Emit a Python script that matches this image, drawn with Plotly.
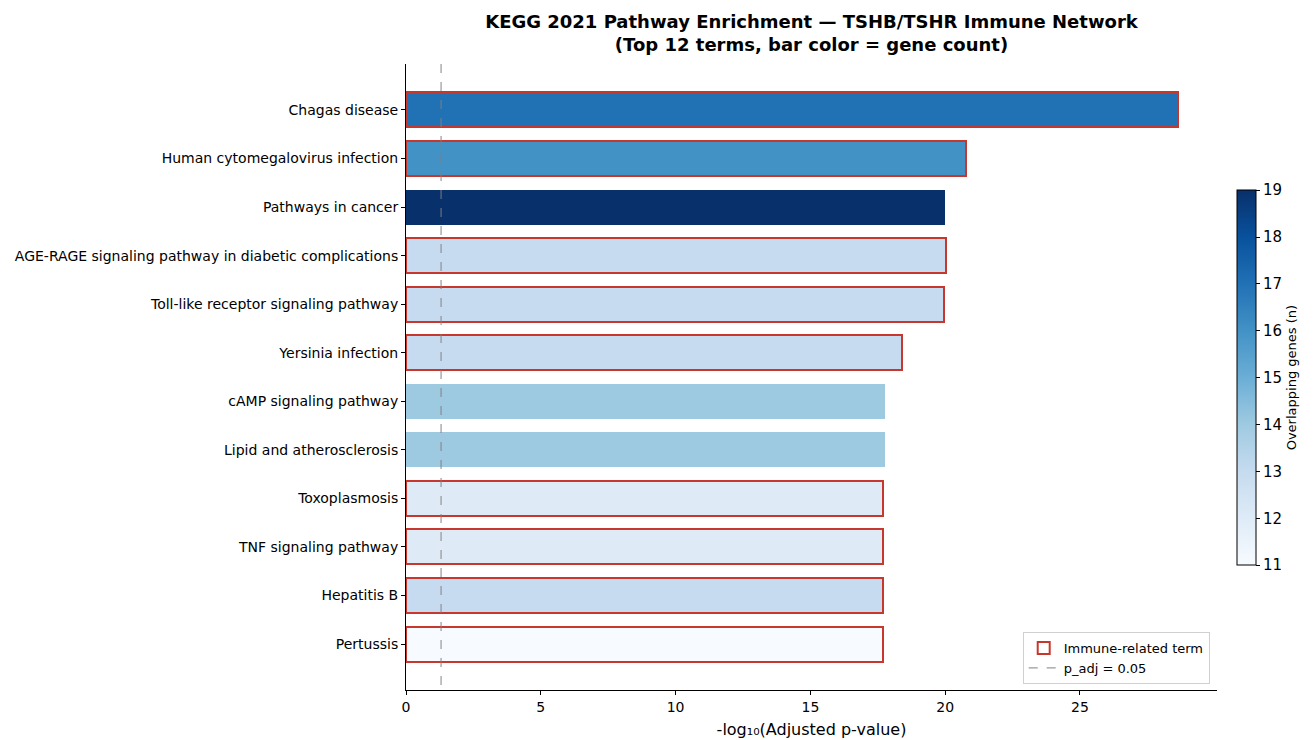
import plotly.graph_objects as go

# KEGG 2021 enrichment results (top 12 terms)
terms = [
    "Chagas disease",
    "Human cytomegalovirus infection",
    "Pathways in cancer",
    "AGE-RAGE signaling pathway in diabetic complications",
    "Toll-like receptor signaling pathway",
    "Yersinia infection",
    "cAMP signaling pathway",
    "Lipid and atherosclerosis",
    "Toxoplasmosis",
    "TNF signaling pathway",
    "Hepatitis B",
    "Pertussis",
]
neg_log10_padj = [28.65, 20.78, 20.0, 20.03, 19.97, 18.41, 17.75, 17.75, 17.71, 17.71, 17.71, 17.68]
gene_counts = [17, 16, 19, 13, 13, 13, 14, 14, 12, 12, 13, 11]
immune_related = [True, True, False, True, True, True, False, False, True, True, True, True]

padj_cutoff = 0.05
cutoff_x = 1.3010299956639813  # -log10(0.05)

RED = "#c8372d"
FONT = "DejaVu Sans, sans-serif"

ypos = list(range(len(terms)))
x_max = max(neg_log10_padj) * 1.05
y_lo, y_hi = -0.946, len(terms) - 1 + 0.946

fig = go.Figure()

fig.add_trace(go.Bar(
    x=neg_log10_padj,
    y=ypos,
    orientation="h",
    width=0.72,
    marker=dict(
        color=gene_counts,
        colorscale="Blues",
        cmin=11,
        cmax=19,
        line=dict(
            color=[RED if f else "rgba(0,0,0,0)" for f in immune_related],
            width=[2 if f else 0 for f in immune_related],
        ),
        colorbar=dict(
            title=dict(text="Overlapping genes (n)", side="right",
                       font=dict(size=13, family=FONT, color="black")),
            x=1.0247, xanchor="left", xref="paper", xpad=0,
            y=0.499, yanchor="middle", yref="paper", ypad=0,
            len=0.599, lenmode="fraction",
            thickness=19, thicknessmode="pixels",
            outlinewidth=1, outlinecolor="black",
            tickmode="array", tickvals=list(range(11, 20)),
            ticks="outside", ticklen=4, tickcolor="black",
            tickfont=dict(size=15, family=FONT, color="black"),
        ),
    ),
    showlegend=False,
    hoverinfo="x+y",
))

# legend proxies
fig.add_trace(go.Bar(
    x=[None], y=[None], orientation="h",
    marker=dict(color="white", line=dict(color=RED, width=2)),
    name="Immune-related term", showlegend=True,
))

fig.add_trace(go.Scatter(
    x=[cutoff_x, cutoff_x], y=[y_lo, y_hi], mode="lines",
    line=dict(color="grey", width=1.2, dash="dash"),
    opacity=0.8,
    name=f"p_adj = {padj_cutoff}",
))

fig.update_layout(
    width=1314, height=740,
    margin=dict(l=406, r=97, t=64, b=50, autoexpand=False),
    plot_bgcolor="white", paper_bgcolor="white",
    font=dict(family=FONT, color="black", size=14),
    bargap=0,
    title=dict(
        text="<b>KEGG 2021 Pathway Enrichment — TSHB/TSHR Immune Network</b><br>"
             "<b>(Top 12 terms, bar color = gene count)</b>",
        x=0.5, xref="paper", xanchor="center",
        yref="container", y=1 - 28 / 740, yanchor="middle",
        font=dict(size=18, family=FONT, color="black"),
    ),
    xaxis=dict(
        range=[0, x_max],
        tickmode="array", tickvals=[0, 5, 10, 15, 20, 25],
        ticks="outside", ticklen=4, tickcolor="black",
        showline=True, linecolor="black", linewidth=1,
        showgrid=False, zeroline=False,
        tickfont=dict(size=14, family=FONT),
        title=dict(text="-log₁₀(Adjusted p-value)", font=dict(size=16, family=FONT), standoff=10),
    ),
    yaxis=dict(
        range=[y_hi, y_lo],
        tickmode="array", tickvals=ypos, ticktext=terms,
        ticks="outside", ticklen=4, tickcolor="black",
        showline=True, linecolor="black", linewidth=1,
        showgrid=False, zeroline=False,
        tickfont=dict(size=14, family=FONT),
    ),
    legend=dict(
        x=0.991, xanchor="right", y=0.0096, yanchor="bottom",
        bgcolor="white", bordercolor="#d0d0d0", borderwidth=1,
        font=dict(size=13, family=FONT),
        traceorder="normal",
    ),
)

fig.write_html("out.html")
